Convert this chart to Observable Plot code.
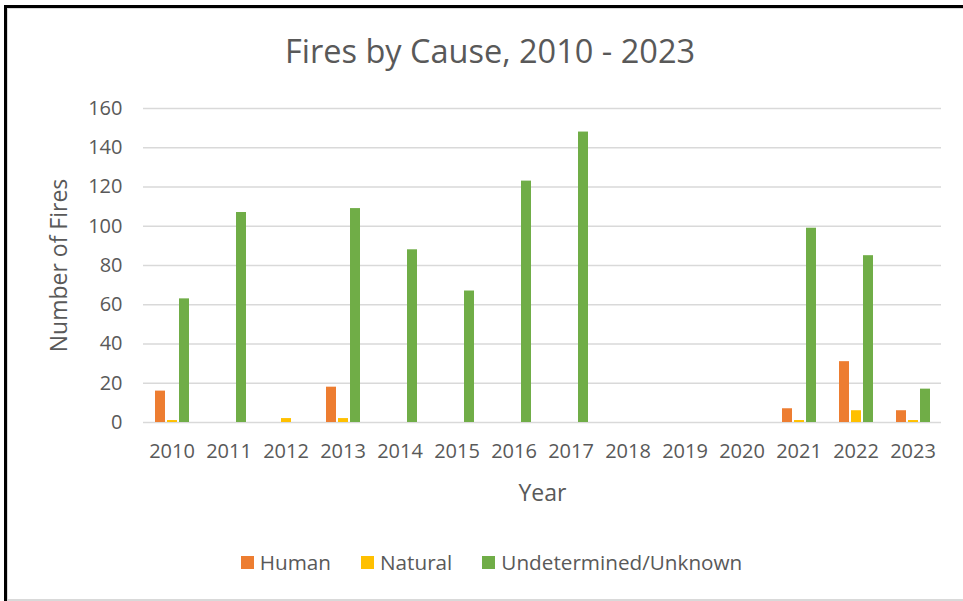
<!DOCTYPE html>
<html><head><meta charset="utf-8">
<script src="https://cdn.jsdelivr.net/npm/d3@7"></script>
<script src="https://cdn.jsdelivr.net/npm/@observablehq/plot@0.6"></script>
<style>
body{margin:0;background:#fff;font-family:"Open Sans",sans-serif;}
#frame{position:relative;width:963px;height:601px;overflow:hidden;background:#fff;}
#outer{position:absolute;left:4px;top:5px;width:1000px;height:600px;border-left:3px solid #000;border-top:3px solid #000;}
#inner{position:absolute;left:7px;top:8px;width:1000px;height:590px;border-left:1px solid #d9d9d9;border-top:1px solid #d9d9d9;border-bottom:2px solid #d9d9d9;}
#title{position:absolute;left:0;width:980px;top:28px;text-align:center;font-size:32.5px;color:#595959;}
#chart{position:absolute;left:0;top:90px;}
#chart svg text{font-size:20px !important;fill:#595959;}
#chart svg g[aria-label$="axis label"] text{font-size:23px !important;}
#legend{position:absolute;top:548px;left:0;width:983px;display:flex;justify-content:center;font-size:20.7px;color:#595959;}
.item{display:flex;align-items:center;margin:0 15px;}
.sw{width:13px;height:13px;margin-right:6px;}
</style></head><body>
<div id="frame">
 <div id="outer"></div>
 <div id="inner"></div>
 <div id="title">Fires by Cause, 2010 - 2023</div>
 <div id="chart"></div>
 <div id="legend"></div>
</div>
<script>
const years = ["2010","2011","2012","2013","2014","2015","2016","2017","2018","2019","2020","2021","2022","2023"];
const causes = ["Human","Natural","Undetermined/Unknown"];
const human   = [16, 0, 0, 18, 0, 0, 0, 0, 0, 0, 0, 7, 31, 6];
const natural = [1, 0, 2, 2, 0, 0, 0, 0, 0, 0, 0, 1, 6, 1];
const unknown = [63, 107, 0, 109, 88, 67, 123, 148, 0, 0, 0, 99, 85, 17];
const colors = ["#ED7D31", "#FFC000", "#70AD47"];
const yTicks = [0, 20, 40, 60, 80, 100, 120, 140, 160];

const series = [human, natural, unknown];
const data = [];
years.forEach((yr, i) => causes.forEach((c, j) => data.push({year: yr, cause: c, value: series[j][i]})));

const chart = Plot.plot({
  width: 963,
  height: 440,
  marginTop: 18,
  marginBottom: 108,
  marginLeft: 143,
  marginRight: 22,
  style: {fontFamily: "Open Sans, sans-serif", fontSize: "20px", color: "#595959", background: "transparent"},
  fx: {domain: years, padding: 0},
  x: {domain: causes, paddingInner: 0.2, paddingOuter: 0.88, axis: null},
  y: {domain: [0, 160]},
  color: {domain: causes, range: colors},
  marks: [
    Plot.ruleY(yTicks, {stroke: "#d9d9d9", strokeWidth: 1.5}),
    Plot.barY(data, {fx: "year", x: "cause", y: "value", fill: "cause"}),
    Plot.axisFx({anchor: "bottom", tickSize: 0, tickPadding: 21, label: "Year", labelAnchor: "center", labelOffset: 78}),
    Plot.axisY({ticks: yTicks, tickSize: 0, tickPadding: 21, label: "Number of Fires", labelAnchor: "center", labelArrow: "none", labelOffset: 93})
  ]
});
document.getElementById("chart").appendChild(chart);

const legend = document.getElementById("legend");
causes.forEach((c, i) => {
  const it = document.createElement("div"); it.className = "item";
  const sw = document.createElement("div"); sw.className = "sw"; sw.style.background = colors[i];
  const t = document.createElement("span"); t.textContent = c;
  it.appendChild(sw); it.appendChild(t); legend.appendChild(it);
});
</script>
</body></html>
